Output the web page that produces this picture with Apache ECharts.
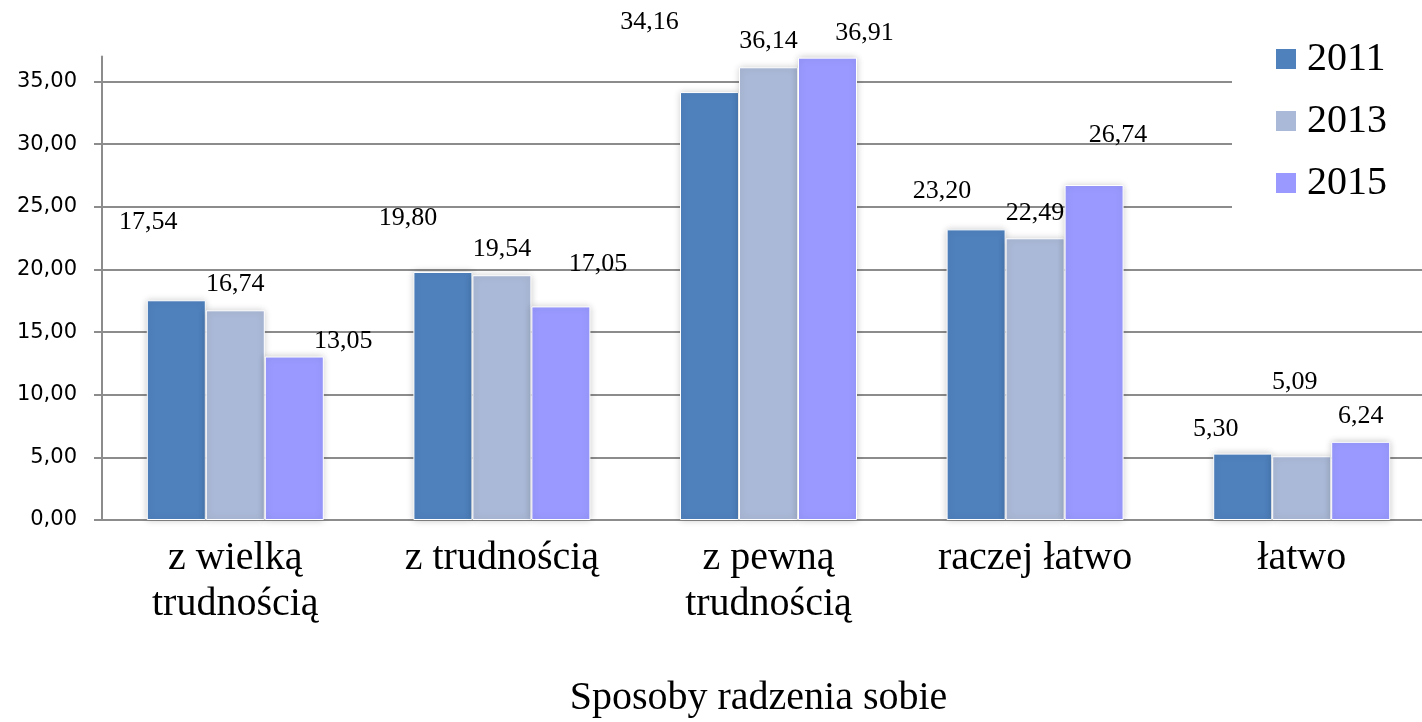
<!DOCTYPE html>
<html>
<head>
<meta charset="utf-8">
<script src="https://cdn.jsdelivr.net/npm/echarts@6/dist/echarts.min.js"></script>
<style>
  html, body { margin: 0; padding: 0; background: #fff; }
  #chart { width: 1422px; height: 722px; }
</style>
</head>
<body>
<div id="chart"></div>
<script>
// categories and values
var categories = ['z wielką\ntrudnością', 'z trudnością', 'z pewną\ntrudnością', 'raczej łatwo', 'łatwo'];
var years = ['2011', '2013', '2015'];
var values2011 = [17.54, 19.80, 34.16, 23.20, 5.30];
var values2013 = [16.74, 19.54, 36.14, 22.49, 5.09];
var values2015 = [13.05, 17.05, 36.91, 26.74, 6.24];
var yTicks = [0, 5, 10, 15, 20, 25, 30, 35];

// label nudges, like the hand placed labels of the original
var shift2011 = [[-28, -60], [-35, -36], [-60, -52], [-34, -20], [-27, -6]];
var shift2013 = [[0, -8], [0, -8], [0, -8], [0, -7], [-7, -56]];
var shift2015 = [[49, 3], [37, -24], [37, -6], [24, -32], [0, -8]];

var colors = ['#4F81BD', '#AAB9D7', '#9999FF'];

function fmt(v) {
  return v.toFixed(2).replace('.', ',');
}

function makeData(vals, shifts) {
  let out = [];
  for (let i = 0; i < vals.length; i++) {
    out.push({ value: vals[i], label: { offset: shifts[i] } });
  }
  return out;
}

function makeSeries(name, vals, shifts, color) {
  return {
    name: name,
    type: 'bar',
    barWidth: 59,
    barGap: '0%',
    data: makeData(vals, shifts),
    itemStyle: {
      color: color,
      borderColor: '#ffffff',
      borderWidth: 1,
      shadowColor: 'rgba(0,0,0,0.22)',
      shadowBlur: 7
    },
    label: {
      show: true,
      position: 'top',
      color: '#000',
      fontFamily: 'Liberation Serif',
      fontSize: 26,
      formatter: function (p) { return fmt(p.value); }
    }
  };
}

var myChart = echarts.init(document.getElementById('chart'));
myChart.setOption({
  animation: false,
  backgroundColor: '#fff',
  grid: {
    left: 102,
    top: 56.5,
    width: 1333,
    height: 463.5,
    containLabel: false,
    outerBoundsMode: 'none'
  },
  legend: {
    orient: 'vertical',
    left: 1232,
    top: 20,
    padding: [19, 60, 22, 42],
    backgroundColor: '#fff',
    itemWidth: 22,
    itemHeight: 22,
    itemGap: 22,
    icon: 'rect',
    data: years,
    textStyle: {
      fontFamily: 'Liberation Serif',
      fontSize: 40,
      color: '#000',
      padding: [0, 0, 0, 5]
    }
  },
  xAxis: {
    type: 'category',
    data: categories,
    name: 'Sposoby radzenia sobie',
    nameLocation: 'middle',
    nameGap: 158,
    nameTextStyle: {
      fontFamily: 'Liberation Serif',
      fontSize: 40,
      color: '#000',
      padding: [0, 20, 0, 0]
    },
    axisLine: { lineStyle: { color: '#8c8c8c', width: 2 } },
    axisTick: { length: 11, lineStyle: { color: '#8c8c8c', width: 2 } },
    axisLabel: {
      interval: 0,
      margin: 15,
      fontFamily: 'Liberation Serif',
      fontSize: 40,
      lineHeight: 46,
      color: '#000'
    }
  },
  yAxis: {
    type: 'value',
    min: 0,
    max: 37,
    interval: 5,
    axisLine: { show: true, lineStyle: { color: '#8c8c8c', width: 2 } },
    axisTick: { show: true, length: 8, customValues: yTicks, lineStyle: { color: '#8c8c8c', width: 2 } },
    splitLine: { lineStyle: { color: '#8c8c8c', width: 2 } },
    axisLabel: {
      customValues: yTicks,
      margin: 25,
      fontFamily: 'DejaVu Sans',
      fontSize: 21,
      color: '#000',
      formatter: function (v) { return fmt(v); }
    }
  },
  series: [
    makeSeries(years[0], values2011, shift2011, colors[0]),
    makeSeries(years[1], values2013, shift2013, colors[1]),
    makeSeries(years[2], values2015, shift2015, colors[2])
  ]
});
</script>
</body>
</html>
